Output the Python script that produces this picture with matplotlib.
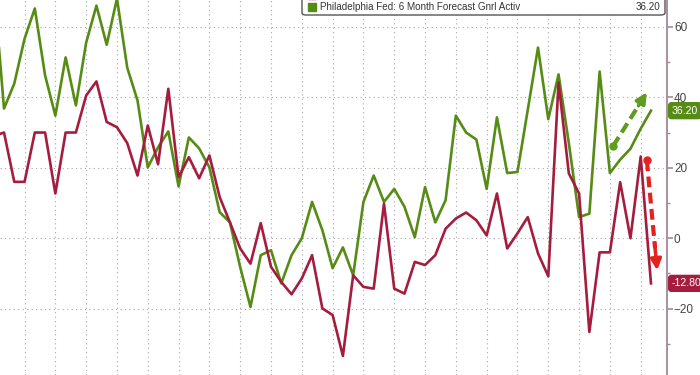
import numpy as np
import pandas as pd
import matplotlib
matplotlib.use("Agg")
from matplotlib import pyplot as plt
from matplotlib.patches import FancyBboxPatch, Rectangle

# monthly survey readings, Jun 2020 .. Oct 2025
months = pd.date_range("2020-06-01", "2025-10-01", freq="MS")

current_activity = [
    29, 30, 16, 16, 30, 30, 12.7, 30, 30, 40.5, 44.5, 33, 31.5, 27, 17.8, 32,
    21, 42.4, 17.3, 23, 17, 23.5, 11.7, 4.5, -2.9, -7.2, 4.3, -8.1, -12.4,
    -15.9, -11.4, -4.8, -19.9, -21.8, -33.4, -10.5, -13.8, -14.3, 9.8, -14.3,
    -15.7, -6.7, -7.6, -4.8, 2.7, 5.6, 7.3, 5.1, 0.8, 12.7, -2.9, 1.4, 6.0,
    -4.3, -10.8, 44.2, 18.4, 12.7, -26.6, -4.0, -4.0, 15.9, 0.0, 23.2, -12.8,
]
forecast_6m = [
    72, 36.8, 43.9, 56.6, 65.2, 46.2, 34.8, 51.3, 37.7, 55.5, 66, 54.9, 68,
    48.4, 39.1, 20.1, 25.8, 30.3, 14.7, 28.6, 25.5, 20.1, 7.4, 4.5, -8.2,
    -19.5, -4.8, -3.4, -12.8, -4.8, 0.0, 10.3, 2.3, -8.5, -2.6, -10.5, 10.3,
    17.8, 10.3, 14.0, 8.9, 0.3, 14.5, 4.5, 10.8, 34.8, 30.0, 28.0, 14.0,
    34.3, 18.5, 18.8, 36.4, 54.1, 33.8, 46.5, 27.0, 6.0, 7.0, 47.3, 18.5,
    22.3, 25.4, 31.1, 36.2,
]

label_current = "Philadelphia Fed Business Outlook Survey Diffusion Index General Conditions"
label_forecast = "Philadelphia Fed: 6 Month Forecast Gnrl Activ"

RED = "#a51d3e"
GREEN = "#568c15"
AXIS = "#a3879a"
FONT = ["Liberation Sans Narrow", "DejaVu Sans Condensed", "Liberation Sans", "DejaVu Sans"]

x = np.arange(len(months))

fig = plt.figure(figsize=(7, 3.75), dpi=100)
ax = fig.add_axes([0, 0, 667 / 700, 1])

ax.plot(x, forecast_6m, color=GREEN, lw=1.9, zorder=3)
ax.plot(x, current_activity, color=RED, lw=1.9, zorder=4)

ax.set_xlim(0.61, 65.56)
ax.set_ylim(-38.8, 67.6)

# dashed trend arrows
def dashed_arrow(x0, y0, x1, y1, color):
    ax.plot([x0, x0 + (x1 - x0) * 0.8], [y0, y0 + (y1 - y0) * 0.8],
            color=color, lw=3, ls=(0, (2.6, 1.3)), zorder=6, solid_capstyle="butt")
    ax.plot([x0], [y0], "o", color=color, ms=5, zorder=6)
    ax.annotate("", xy=(x1, y1), xytext=(x0 + (x1 - x0) * 0.75, y0 + (y1 - y0) * 0.75),
                arrowprops=dict(arrowstyle="-|>", color=color, lw=2.5,
                                mutation_scale=16, shrinkA=0, shrinkB=0), zorder=6)

dashed_arrow(60.3, 26.1, 63.6, 41.4, "#5e9b1f")
dashed_arrow(63.6, 22.1, 64.6, -9.1, "#e2231f")

# grid and right axis
ax.set_xticks(np.arange(3, len(months), 3))
ax.set_xticklabels([])
ax.tick_params(axis="x", length=0)
ax.set_yticks([-20, 0, 20, 40, 60])
ax.set_yticks(np.arange(-30, 61, 20), minor=True)
ax.grid(True, which="major", color="#a8a8a8", lw=0.8, ls=(0, (1, 3)))
for s in ["left", "top", "bottom"]:
    ax.spines[s].set_visible(False)
ax.spines["right"].set_color(AXIS)
ax.spines["right"].set_linewidth(1.3)
ax.yaxis.tick_right()
ax.tick_params(axis="y", which="major", direction="out", length=4, width=1.2,
               color=AXIS, labelcolor="#444444", labelsize=8.5, pad=1)
ax.tick_params(axis="y", which="minor", direction="out", length=2.5, width=1,
               color=AXIS)
for t in ax.get_yticklabels():
    t.set_fontfamily(FONT)

# last value tags
for val, col in [(forecast_6m[-1], GREEN), (current_activity[-1], RED)]:
    ax.text(1.007, val, f"{val:.2f}", transform=ax.get_yaxis_transform(),
            ha="left", va="center", color="white", fontsize=7.6, family=FONT,
            bbox=dict(boxstyle="round,pad=0.28,rounding_size=0.25", fc=col, ec=col),
            clip_on=False, zorder=10)

# legend box at top, partly cut off
W, H = 700, 375
box = FancyBboxPatch((302 / W, 1 - 15 / H), (665 - 302) / W, 40 / H,
                     boxstyle="round,pad=0,rounding_size=0.006",
                     transform=fig.transFigure, fc="white", ec="#555555",
                     lw=1.0, zorder=20)
fig.patches.append(box)
rows = [(label_current, current_activity[-1], RED, -5),
        (label_forecast, forecast_6m[-1], GREEN, 7)]
for lab, val, col, yp in rows:
    fig.patches.append(Rectangle((308 / W, 1 - (yp + 4) / H), 8 / W, 8 / H,
                                 transform=fig.transFigure, fc=col, ec=col, zorder=21))
    fig.text(320 / W, 1 - yp / H, lab, ha="left", va="center", fontsize=7.1,
             family=FONT, color="#333333", zorder=22)
    fig.text(660 / W, 1 - yp / H, f"{val:.2f}", ha="right", va="center",
             fontsize=7.1, family=FONT, color="#333333", zorder=22)

fig.savefig("out.png", dpi=100)
